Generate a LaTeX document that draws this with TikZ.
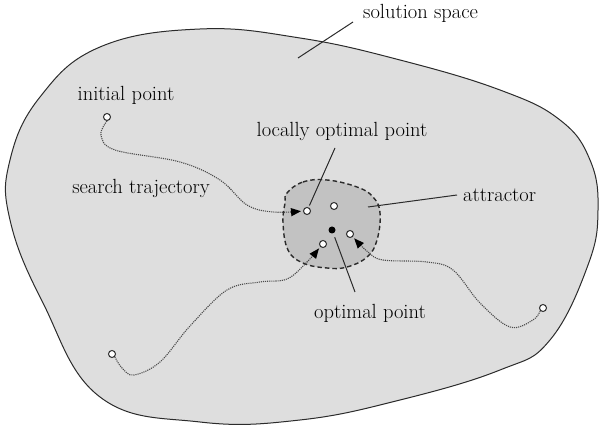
\documentclass[tikz,border=0pt]{standalone}
\usetikzlibrary{arrows.meta, positioning}
\definecolor{SpaceGray}{HTML}{DEDEDE}
\definecolor{BasinGray}{HTML}{C2C2C2}
\definecolor{Ink}{HTML}{2B2B2B}

\tikzset{
  hollowpt/.style={circle, draw=Ink, fill=white, line width=1pt, minimum size=7pt, inner sep=0pt},
  optpt/.style={circle, fill=black, minimum size=7pt, inner sep=0pt},
  lbl/.style={font=\fontsize{20.5}{24}\selectfont, inner sep=0pt, text=black},
  leader/.style={draw=Ink, line width=1pt},
  traj/.style={draw=Ink!85, line width=1.1pt, densely dotted, -{Triangle[length=10pt,width=8pt,color=black]}, shorten >=2pt},
}

\begin{document}
\begin{tikzpicture}[x=1pt, y=-1pt]
  \useasboundingbox (0,0) rectangle (600,427);

  % solution space
  \draw[fill=SpaceGray, draw=Ink, line width=1pt] plot[smooth cycle, tension=0.7] coordinates {(200,29) (300,38) (400,60) (500,90) (560,120) (590,160) (598,210) (588,265) (550,340) (500,370) (400,400) (300,420) (200,422) (100,397) (43,303) (10,220) (10,160) (40,97) (100,47)};

  % attractor basin
  \draw[fill=BasinGray, draw=Ink, line width=1.4pt, dash pattern=on 4.5pt off 3pt] plot[smooth cycle, tension=0.7] coordinates {(287,193) (303,182) (327,180) (357,187) (373,197) (380,213) (377,240) (367,257) (347,267) (327,268) (303,263) (288,250) (283,223) (285,203)};

  % points
  \node[hollowpt] (ip) at (107,117) {};
  \node[hollowpt] (blStart) at (112,354) {};
  \node[hollowpt] (rsStart) at (543,308) {};
  \node[hollowpt] (lop) at (307,211) {};
  \node[hollowpt] (lopB) at (334,206) {};
  \node[optpt] (opt) at (332,230) {};
  \node[hollowpt] (lopC) at (350,234) {};
  \node[hollowpt] (lopD) at (323,244) {};

  % labels
  \node[lbl, anchor=west] (ssText) at (363,13) {solution space};
  \node[lbl] (ipText) at (126,95) {initial point};
  \node[lbl] (stText) at (141,188) {search trajectory};
  \node[lbl] (lopText) at (342,131) {locally optimal point};
  \node[lbl, anchor=west] (attText) at (463,195) {attractor};
  \node[lbl] (optText) at (370,313) {optimal point};

  \coordinate (ssIn) at (298,58);
  \coordinate (ssEnd) at (353,22);
  \coordinate (lopEnd) at (335,148);
  \coordinate (attIn) at (368,207);
  \coordinate (attEnd) at (457,195);
  \coordinate (optEnd) at (355,292);

  % leaders
  \draw[leader] (ssIn) -- (ssEnd);
  \draw[leader, shorten <=2pt] (lop) -- (lopEnd);
  \draw[leader] (attIn) -- (attEnd);
  \draw[leader, shorten <=4pt] (opt) -- (optEnd);

  % trajectories
  \draw[traj] plot[smooth, tension=0.6] coordinates {(ip.south) (101,135) (115,150) (180,162) (220,180) (247,205) (273,212) (lop.west)};
  \draw[traj] plot[smooth, tension=0.6] coordinates {(blStart.south east) (122,368) (134,375) (160,362) (190,326) (227,290) (260,282) (287,279) (307,262) (lopD.south west)};
  \draw[traj] plot[smooth, tension=0.6] coordinates {(rsStart.south west) (533,320) (510,327) (480,303) (453,270) (427,262) (383,260) (368,252) (lopC.south east)};
\end{tikzpicture}
\end{document}
